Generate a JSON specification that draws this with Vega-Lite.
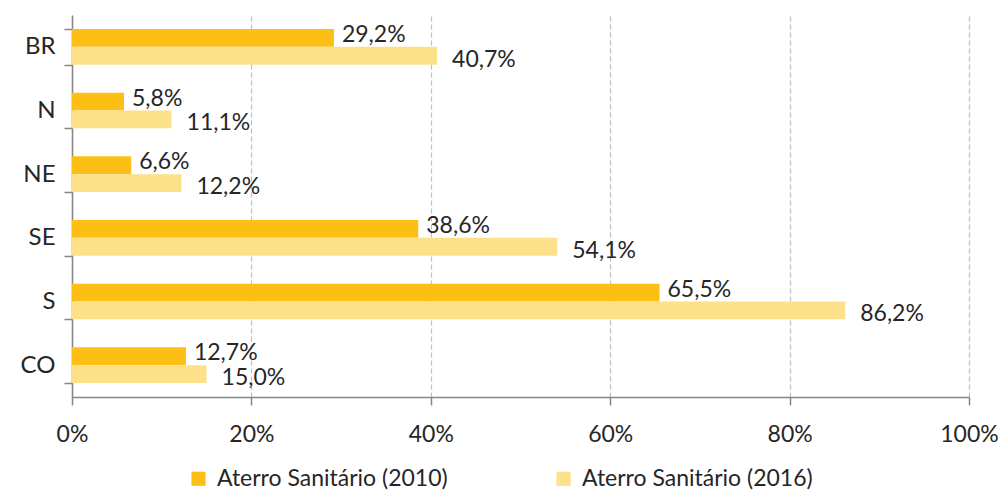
{
  "$schema": "https://vega.github.io/schema/vega-lite/v6.json",
  "width": 897,
  "height": 382,
  "autosize": {"type": "none"},
  "padding": {"left": 72, "top": 15, "right": 35, "bottom": 95},
  "background": "white",
  "config": {
    "locale": {"number": {"decimal": ",", "thousands": ".", "grouping": [3], "currency": ["R$", ""]}},
    "view": {"stroke": null},
    "font": "Lato"
  },
  "data": {
    "values": [
      {"region": "BR", "series": "Aterro Sanitário (2010)", "value": 0.292},
      {"region": "BR", "series": "Aterro Sanitário (2016)", "value": 0.407},
      {"region": "N", "series": "Aterro Sanitário (2010)", "value": 0.058},
      {"region": "N", "series": "Aterro Sanitário (2016)", "value": 0.111},
      {"region": "NE", "series": "Aterro Sanitário (2010)", "value": 0.066},
      {"region": "NE", "series": "Aterro Sanitário (2016)", "value": 0.122},
      {"region": "SE", "series": "Aterro Sanitário (2010)", "value": 0.386},
      {"region": "SE", "series": "Aterro Sanitário (2016)", "value": 0.541},
      {"region": "S", "series": "Aterro Sanitário (2010)", "value": 0.655},
      {"region": "S", "series": "Aterro Sanitário (2016)", "value": 0.862},
      {"region": "CO", "series": "Aterro Sanitário (2010)", "value": 0.127},
      {"region": "CO", "series": "Aterro Sanitário (2016)", "value": 0.150}
    ]
  },
  "encoding": {
    "y": {
      "field": "region",
      "type": "nominal",
      "sort": ["BR", "N", "NE", "SE", "S", "CO"],
      "scale": {"paddingInner": 0.44, "paddingOuter": 0.22},
      "axis": {
        "title": null,
        "domainColor": "#868686",
        "domainWidth": 1.5,
        "tickColor": "#868686",
        "tickWidth": 1.5,
        "tickSize": 8,
        "tickBand": "extent",
        "labelFont": "Lato",
        "labelFontSize": 24,
        "labelColor": "#262626",
        "labelPadding": 9,
        "grid": false
      }
    },
    "yOffset": {
      "field": "series",
      "type": "nominal",
      "sort": ["Aterro Sanitário (2010)", "Aterro Sanitário (2016)"],
      "scale": {"paddingInner": 0, "paddingOuter": 0}
    },
    "x": {
      "field": "value",
      "type": "quantitative",
      "scale": {"domain": [0, 1], "nice": false},
      "axis": {
        "title": null,
        "format": ".0%",
        "values": [0, 0.2, 0.4, 0.6, 0.8, 1],
        "domainColor": "#868686",
        "domainWidth": 1.5,
        "tickColor": "#868686",
        "tickWidth": 1.5,
        "tickSize": 8,
        "labelFont": "Lato",
        "labelFontSize": 23,
        "labelColor": "#262626",
        "labelPadding": 18,
        "labelFlush": false,
        "labelOverlap": false,
        "grid": true,
        "gridColor": "#bfbfbf",
        "gridDash": [5, 3],
        "gridWidth": 1.2
      }
    }
  },
  "layer": [
    {
      "mark": {"type": "bar"},
      "encoding": {
        "color": {
          "field": "series",
          "type": "nominal",
          "scale": {"domain": ["Aterro Sanitário (2010)", "Aterro Sanitário (2016)"], "range": ["#FDBF15", "#FCE18A"]},
          "legend": {
            "title": null,
            "orient": "none",
            "direction": "horizontal",
            "legendX": 115,
            "legendY": 452,
            "symbolType": "square",
            "symbolSize": 200,
            "symbolStrokeWidth": 0,
            "labelFont": "Lato",
            "labelFontSize": 23,
            "labelLimit": 0,
            "labelColor": "#262626",
            "labelOffset": 7,
            "columnPadding": 104
          }
        }
      }
    },
    {
      "transform": [{"filter": "datum.series == 'Aterro Sanitário (2010)'"}],
      "mark": {"type": "text", "align": "left", "baseline": "middle", "dx": 8, "dy": -3, "font": "Lato", "fontSize": 23, "color": "#262626"},
      "encoding": {"text": {"field": "value", "type": "quantitative", "format": ".1%"}}
    },
    {
      "transform": [{"filter": "datum.series == 'Aterro Sanitário (2016)'"}],
      "mark": {"type": "text", "align": "left", "baseline": "middle", "dx": 15, "dy": 4, "font": "Lato", "fontSize": 23, "color": "#262626"},
      "encoding": {"text": {"field": "value", "type": "quantitative", "format": ".1%"}}
    }
  ]
}
